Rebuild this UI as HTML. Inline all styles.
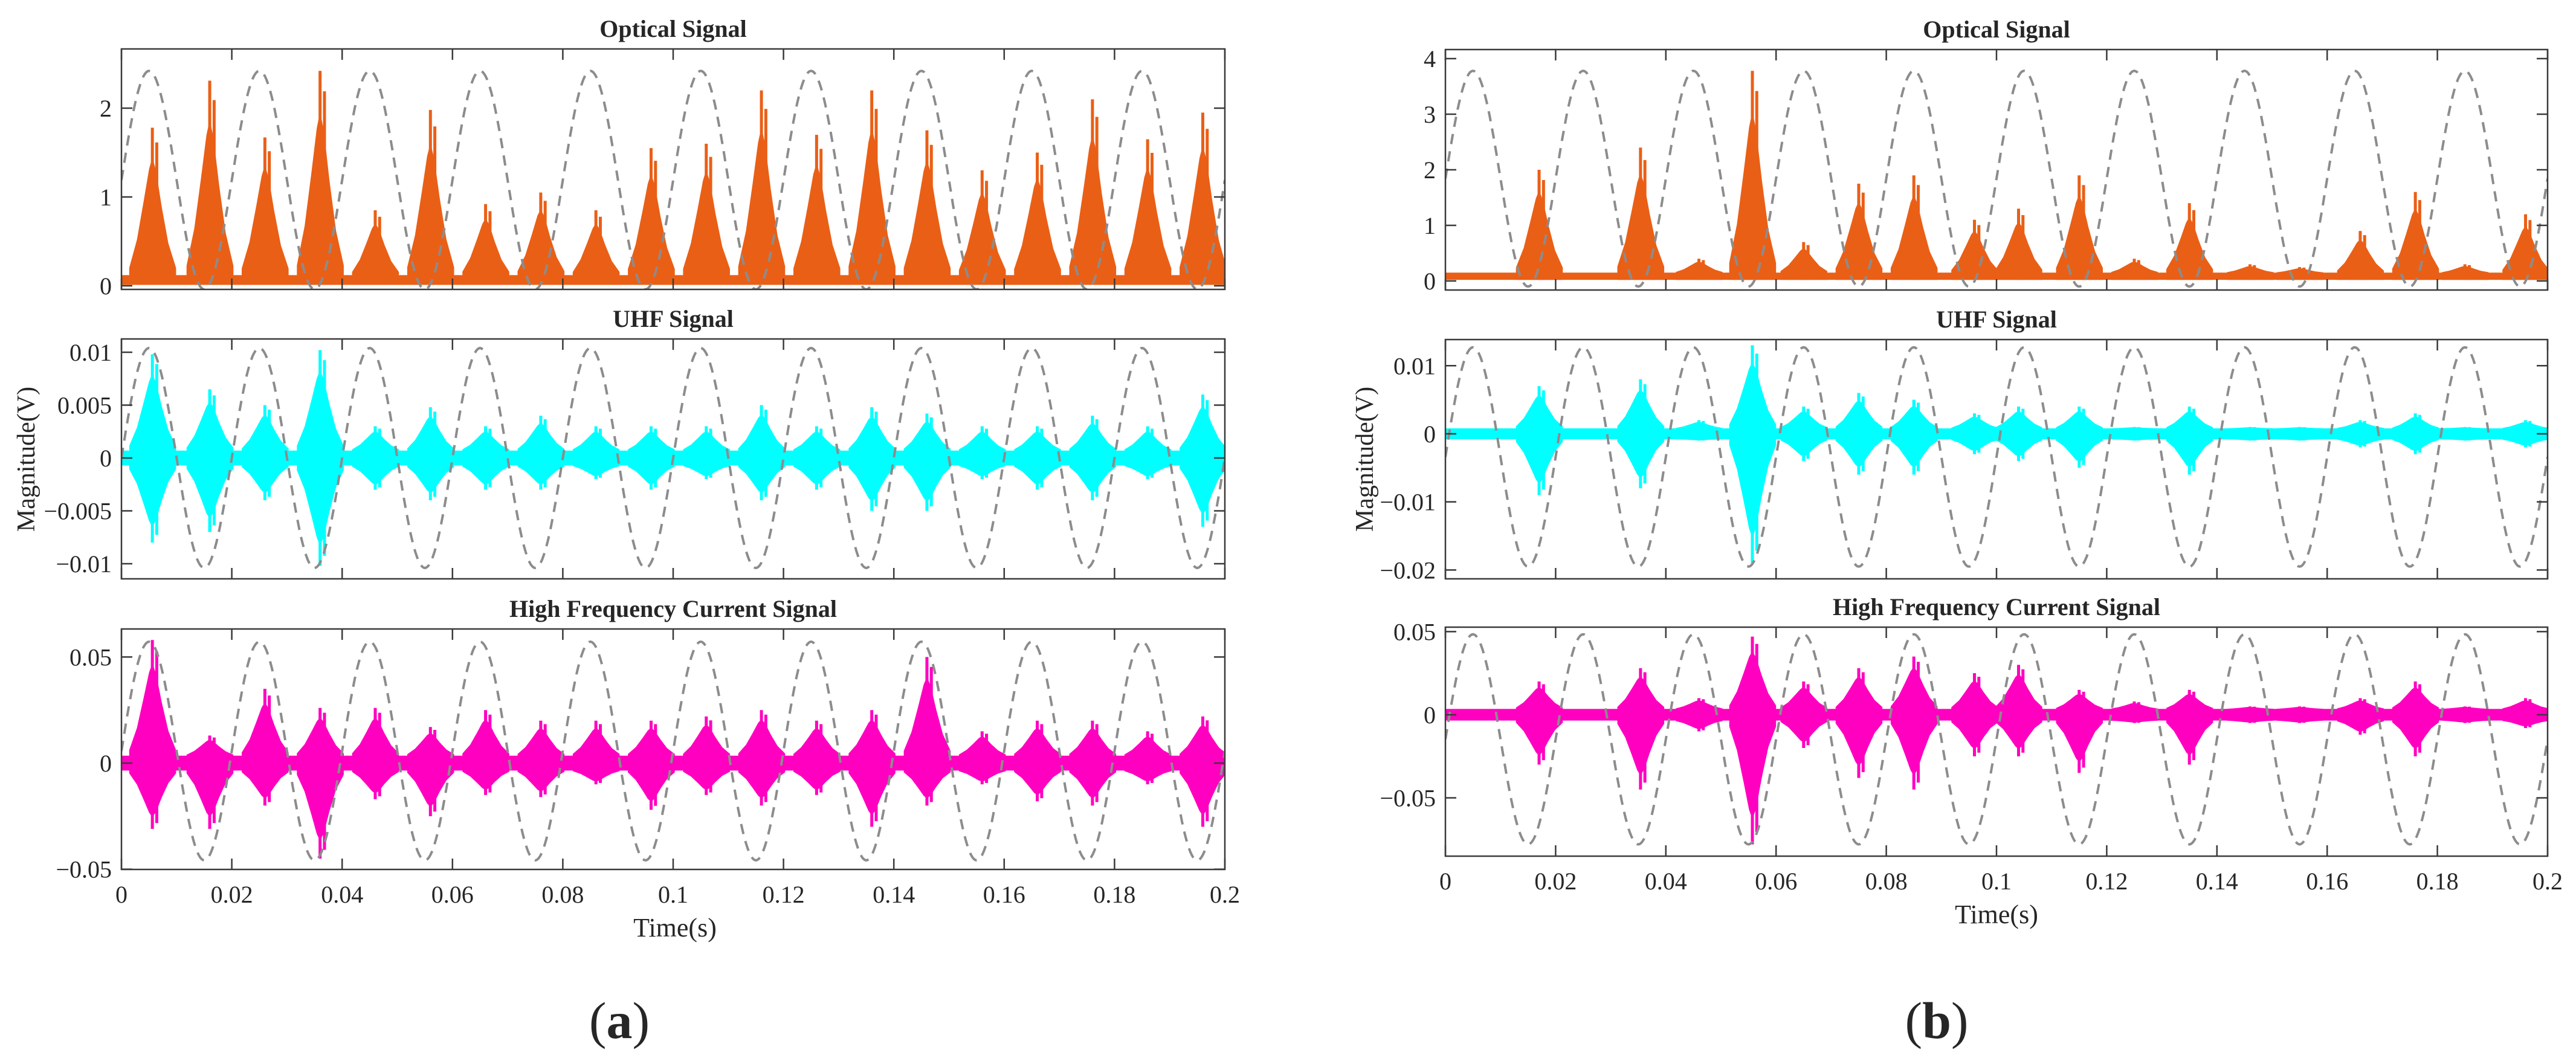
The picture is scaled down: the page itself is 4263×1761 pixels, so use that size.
<!DOCTYPE html>
<html><head><meta charset="utf-8"><style>
html,body{margin:0;padding:0;background:#fff;}
svg{display:block;}
text{font-family:"Liberation Serif",serif;fill:#262626;}
</style></head>
<body>
<svg id="fig" width="4263" height="1761" viewBox="0 0 4263 1761" xmlns="http://www.w3.org/2000/svg">
<text x="1117" y="1550" font-size="44" text-anchor="middle">Time(s)</text>
<text x="3304" y="1528" font-size="44" text-anchor="middle">Time(s)</text>
<text x="0" y="0" font-size="42" text-anchor="middle" transform="translate(57,760) rotate(-90)">Magnitude(V)</text>
<text x="0" y="0" font-size="42" text-anchor="middle" transform="translate(2272,760) rotate(-90)">Magnitude(V)</text>
<text x="1025" y="1718" font-size="86" text-anchor="middle">(<tspan font-weight="bold">a</tspan>)</text>
<text x="3205" y="1718" font-size="86" text-anchor="middle">(<tspan font-weight="bold">b</tspan>)</text>
</svg>
<script>
// ---- data ----
const xTicks = [0,0.02,0.04,0.06,0.08,0.1,0.12,0.14,0.16,0.18,0.2];
const xTickLabels = ["0","0.02","0.04","0.06","0.08","0.1","0.12","0.14","0.16","0.18","0.2"];

// (a) optical bursts
const optA_t = [0.0056,0.016,0.026,0.036,0.046,0.056,0.066,0.076,0.086,0.096,0.106,0.116,0.126,0.136,0.146,0.156,0.166,0.176,0.186,0.196];
const optA_peak = [1.78,2.31,1.67,2.42,0.85,1.98,0.92,1.05,0.85,1.55,1.6,2.2,1.7,2.2,1.75,1.3,1.5,2.1,1.65,1.95];
// (a) UHF bursts
const uhfA_t = optA_t;
const uhfA_pos = [0.0098,0.0065,0.005,0.0102,0.003,0.0048,0.003,0.004,0.003,0.003,0.003,0.005,0.003,0.0048,0.0042,0.003,0.003,0.004,0.003,0.006];
const uhfA_neg = [-0.008,-0.007,-0.004,-0.0102,-0.003,-0.004,-0.003,-0.003,-0.002,-0.003,-0.002,-0.004,-0.003,-0.005,-0.005,-0.002,-0.003,-0.004,-0.002,-0.0065];
// (a) HF current bursts
const hfA_t = optA_t;
const hfA_pos = [0.058,0.013,0.035,0.026,0.026,0.017,0.025,0.02,0.02,0.02,0.022,0.025,0.02,0.025,0.05,0.015,0.02,0.02,0.015,0.022];
const hfA_neg = [-0.031,-0.031,-0.02,-0.045,-0.017,-0.025,-0.015,-0.016,-0.01,-0.022,-0.015,-0.02,-0.015,-0.03,-0.02,-0.01,-0.018,-0.02,-0.01,-0.03];

// (b) optical
const optB_t = [0.017,0.0354,0.046,0.0557,0.065,0.075,0.085,0.096,0.104,0.115,0.125,0.135,0.146,0.155,0.166,0.176,0.185,0.196];
const optB_peak = [2.0,2.4,0.4,3.78,0.7,1.75,1.9,1.1,1.3,1.9,0.4,1.4,0.3,0.25,0.9,1.6,0.3,1.2];
// (b) UHF
const uhfB_t = optB_t;
const uhfB_pos = [0.007,0.008,0.002,0.013,0.004,0.006,0.005,0.003,0.004,0.004,0.001,0.004,0.001,0.001,0.002,0.003,0.001,0.002];
const uhfB_neg = [-0.009,-0.008,-0.001,-0.019,-0.004,-0.006,-0.006,-0.003,-0.004,-0.005,-0.001,-0.006,-0.001,-0.001,-0.002,-0.003,-0.001,-0.002];
// (b) HF current
const hfB_t = optB_t;
const hfB_pos = [0.02,0.028,0.01,0.047,0.02,0.028,0.035,0.025,0.03,0.015,0.008,0.015,0.005,0.005,0.01,0.02,0.005,0.01];
const hfB_neg = [-0.03,-0.045,-0.01,-0.078,-0.02,-0.038,-0.045,-0.025,-0.025,-0.035,-0.005,-0.03,-0.005,-0.005,-0.012,-0.025,-0.005,-0.008];

// reference sine (center, amplitude) per panel
const sineA = [[1.19,1.23],[0,0.0104],[0.0057,0.0515]];
const sineB = [[1.84,1.94],[-0.0034,0.0161],[-0.0148,0.0632]];

// ---- drawing ----
const NS = "http://www.w3.org/2000/svg";
const svg = document.getElementById('fig');
function mk(tag, attrs, parent){
  const e = document.createElementNS(NS, tag);
  for (const k in attrs) e.setAttribute(k, attrs[k]);
  (parent||svg).appendChild(e);
  return e;
}
function fmt(v){ const s = String(+v.toFixed(4)); return v < 0 ? "\u2212" + s.slice(1) : s; }

const shapeOff = [-0.0042,-0.0028,-0.0016,-0.0006,0,0.0007,0.0017,0.0029,0.0043];
const shapeFr = [0.06,0.3,0.62,0.9,1,0.88,0.58,0.27,0.06];

let clipId = 0;
function panel(p){
  const g = mk('g', {});
  
  
  const X = t => p.x0 + (t / 0.2) * (p.x1 - p.x0);
  const Y = v => p.bottom - (v - p.vmin) / (p.vmax - p.vmin) * (p.bottom - p.top);
  const cid = 'clip' + (clipId++);
  const cp = mk('clipPath', {id: cid}, g);
  mk('rect', {x: p.x0, y: p.top, width: p.x1 - p.x0, height: p.bottom - p.top}, cp);
  const plot = mk('g', {'clip-path': 'url(#' + cid + ')'}, g);
  const band = mk('rect', {x: p.x0, y: Y(p.band[1]), width: p.x1 - p.x0, height: Y(p.band[0]) - Y(p.band[1]), fill: p.color}, plot);
  
  
  for (let i = 0; i < p.t.length; i++){
    const t = p.t[i], hi = p.pos[i], lo = p.neg ? p.neg[i] : null;
    let pts = [];
    for (let j = 0; j < shapeOff.length; j++) pts.push(X(t + shapeOff[j]).toFixed(1) + ',' + Y(p.band[1] + (hi - p.band[1]) * shapeFr[j] * 0.8).toFixed(1));
    if (lo !== null){
      for (let j = shapeOff.length - 1; j >= 0; j--) pts.push(X(t + shapeOff[j]).toFixed(1) + ',' + Y(p.band[0] + (lo - p.band[0]) * shapeFr[j] * 0.8).toFixed(1));
    } else {
      pts.push(X(t + shapeOff[shapeOff.length-1]).toFixed(1) + ',' + Y(p.band[0]).toFixed(1));
      pts.push(X(t + shapeOff[0]).toFixed(1) + ',' + Y(p.band[0]).toFixed(1));
    }
    const poly = mk('polygon', {points: pts.join(' '), fill: p.color}, plot);
    
    
    const sp = mk('line', {x1: X(t), x2: X(t), y1: Y(hi), y2: Y(lo !== null ? lo : p.band[0]), stroke: p.color, 'stroke-width': 5}, plot);
    
    
    const sp2 = mk('line', {x1: X(t + 0.0008), x2: X(t + 0.0008), y1: Y(p.band[1] + (hi - p.band[1]) * 0.9), y2: Y(lo !== null ? p.band[0] + (lo - p.band[0]) * 0.9 : p.band[0]), stroke: p.color, 'stroke-width': 5}, plot);
    
    
  }
  let d = '';
  for (let k = 0; k <= 800; k++){
    const t = 0.2 * k / 800;
    d += (k ? 'L' : 'M') + X(t).toFixed(1) + ',' + Y(p.sine[0] + p.sine[1] * Math.sin(2 * Math.PI * 50 * t)).toFixed(1);
  }
  const sl = mk('path', {d: d, fill: 'none', stroke: '#8c8c8c', 'stroke-width': 4, 'stroke-dasharray': '17 12'}, plot);
  
  
  const fr = mk('rect', {x: p.x0, y: p.top, width: p.x1 - p.x0, height: p.bottom - p.top, fill: 'none', stroke: '#3a3a3a', 'stroke-width': 2.5}, g);
  
  
  for (let i = 0; i < xTicks.length; i++){
    const x = X(xTicks[i]);
    mk('line', {x1: x, x2: x, y1: p.bottom, y2: p.bottom - 18, stroke: '#3a3a3a', 'stroke-width': 2.5}, g);
    mk('line', {x1: x, x2: x, y1: p.top, y2: p.top + 18, stroke: '#3a3a3a', 'stroke-width': 2.5}, g);
    if (p.xlabels){
      const tx = mk('text', {x: x, y: p.bottom + 55, 'font-size': 40, 'text-anchor': 'middle'}, g);
      tx.textContent = xTickLabels[i];
      
      
    }
  }
  for (const v of p.yticks){
    const y = Y(v);
    mk('line', {x1: p.x0, x2: p.x0 + 18, y1: y, y2: y, stroke: '#3a3a3a', 'stroke-width': 2.5}, g);
    mk('line', {x1: p.x1, x2: p.x1 - 18, y1: y, y2: y, stroke: '#3a3a3a', 'stroke-width': 2.5}, g);
    const tx = mk('text', {x: p.x0 - 16, y: y + 14, 'font-size': 40, 'text-anchor': 'end'}, g);
    tx.textContent = fmt(v);
    
    
  }
  const ti = mk('text', {x: (p.x0 + p.x1) / 2, y: p.top - 20, 'font-size': 40, 'font-weight': 'bold', 'text-anchor': 'middle'}, g);
  ti.textContent = p.title;
  
  
}

const LX = [201, 2027], RX = [2392, 4216];
panel({name:'optical-panel-a', title:'Optical Signal', x0:LX[0], x1:LX[1], top:81, bottom:479, vmin:-0.041, vmax:2.667, yticks:[0,1,2], t:optA_t, pos:optA_peak, neg:null, band:[0.01,0.12], color:'#EA5F16', sine:sineA[0]});
panel({name:'uhf-panel-a', title:'UHF Signal', x0:LX[0], x1:LX[1], top:561, bottom:958, vmin:-0.01143, vmax:0.01126, yticks:[-0.01,-0.005,0,0.005,0.01], t:uhfA_t, pos:uhfA_pos, neg:uhfA_neg, band:[-0.0007,0.0007], color:'#00FFFF', sine:sineA[1]});
panel({name:'hf-current-panel-a', title:'High Frequency Current Signal', x0:LX[0], x1:LX[1], top:1041, bottom:1439, vmin:-0.0501, vmax:0.0632, yticks:[-0.05,0,0.05], t:hfA_t, pos:hfA_pos, neg:hfA_neg, band:[-0.0035,0.0035], color:'#FF00C0', sine:sineA[2], xlabels:true});
panel({name:'optical-panel-b', title:'Optical Signal', x0:RX[0], x1:RX[1], top:82, bottom:480, vmin:-0.163, vmax:4.163, yticks:[0,1,2,3,4], t:optB_t, pos:optB_peak, neg:null, band:[0.02,0.15], color:'#EA5F16', sine:sineB[0]});
panel({name:'uhf-panel-b', title:'UHF Signal', x0:RX[0], x1:RX[1], top:562, bottom:958, vmin:-0.0213, vmax:0.01384, yticks:[-0.02,-0.01,0,0.01], t:uhfB_t, pos:uhfB_pos, neg:uhfB_neg, band:[-0.0008,0.0008], color:'#00FFFF', sine:sineB[1]});
panel({name:'hf-current-panel-b', title:'High Frequency Current Signal', x0:RX[0], x1:RX[1], top:1038, bottom:1417, vmin:-0.0851, vmax:0.0527, yticks:[-0.05,0,0.05], t:hfB_t, pos:hfB_pos, neg:hfB_neg, band:[-0.0035,0.0035], color:'#FF00C0', sine:sineB[2], xlabels:true});
</script>
</body></html>
